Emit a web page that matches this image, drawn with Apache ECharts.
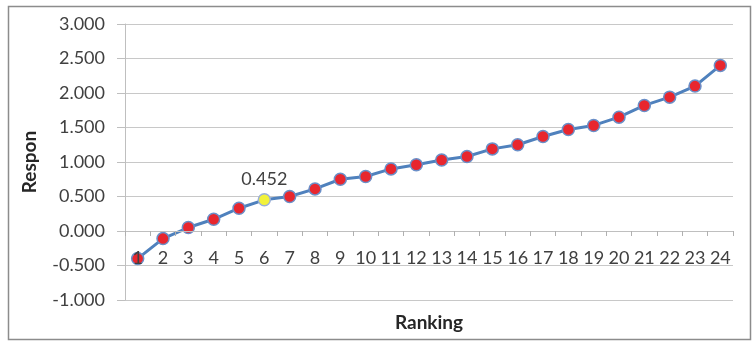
<!DOCTYPE html>
<html><head><meta charset="utf-8">
<script src="https://cdn.jsdelivr.net/npm/echarts@6/dist/echarts.min.js"></script>
<style>html,body{margin:0;padding:0;background:#fff}#c{width:756px;height:357px}</style>
</head><body><div id="c"></div>
<script>
const categories = ['1','2','3','4','5','6','7','8','9','10','11','12','13','14','15','16','17','18','19','20','21','22','23','24'];
const values = [-0.40, -0.11, 0.05, 0.17, 0.33, 0.452, 0.50, 0.61, 0.75, 0.79, 0.90, 0.96, 1.03, 1.08, 1.19, 1.25, 1.37, 1.47, 1.53, 1.65, 1.82, 1.94, 2.10, 2.40];
const highlightIndex = 5;
const yTicks = [-1, -0.5, 0, 0.5, 1, 1.5, 2, 2.5, 3];
const xTitle = 'Ranking';
const yTitle = 'Respon';

const font = 'Lato, "Open Sans", sans-serif';
const gridTop = 24, gridBottom = 57, H = 357;
const plotH = H - gridTop - gridBottom;
const yMin = yTicks[0], yMax = yTicks[yTicks.length - 1];
// shift category axis up so it crosses the value axis at 0
const zeroOffset = -plotH * (0 - yMin) / (yMax - yMin);

const chart = echarts.init(document.getElementById('c'), null, {renderer: 'canvas'});
chart.setOption({
  animation: false,
  backgroundColor: '#fff',
  graphic: [{
    type: 'rect', shape: {x: 8.5, y: 6.5, width: 742, height: 333},
    style: {fill: 'none', stroke: '#8c8c8c', lineWidth: 1.5}, z: -1
  }],
  grid: {left: 125, right: 23, top: gridTop, bottom: gridBottom, containLabel: false, outerBoundsMode: 'none'},
  xAxis: {
    type: 'category', data: categories, boundaryGap: true, offset: zeroOffset, z: 5,
    name: xTitle, nameLocation: 'middle', nameGap: 82,
    nameTextStyle: {fontFamily: font, fontWeight: 'bold', fontSize: 19, color: '#262626'},
    axisLine: {show: true, onZero: false, lineStyle: {color: '#bfbfbf', width: 1}},
    axisTick: {show: true, length: 5, inside: false, lineStyle: {color: '#b0b0b0'}},
    axisLabel: {fontFamily: font, fontSize: 18, color: '#404040', margin: 18, interval: 0,
      showMinLabel: true, showMaxLabel: true, hideOverlap: false},
    splitLine: {show: false}
  },
  yAxis: {
    type: 'value', min: yMin, max: yMax, interval: 0.5,
    name: yTitle, nameLocation: 'middle', nameGap: 86, nameRotate: 90,
    nameTextStyle: {fontFamily: font, fontWeight: 'bold', fontSize: 19, color: '#262626'},
    axisLine: {show: true, lineStyle: {color: '#bfbfbf'}},
    axisTick: {show: true, length: 8, lineStyle: {color: '#bfbfbf'}},
    axisLabel: {fontFamily: font, fontSize: 18, color: '#404040', margin: 20,
      formatter: v => v.toFixed(3)},
    splitLine: {show: true, lineStyle: {color: '#c8c8c8', width: 1}}
  },
  series: [{
    type: 'line', data: values.map((v, i) => i === highlightIndex ? {
      value: v,
      itemStyle: {color: '#f2f23a', borderColor: '#9bb0d8'},
      label: {show: true, position: 'top', distance: 5, formatter: p => p.value.toFixed(3),
        fontFamily: font, fontSize: 18, color: '#404040'}
    } : v),
    symbol: 'circle', symbolSize: 12,
    lineStyle: {color: '#4f81bd', width: 3},
    itemStyle: {color: '#e8262e', borderColor: '#6a8fc8', borderWidth: 1.5},
    z: 3
  }]
});
</script></body></html>
